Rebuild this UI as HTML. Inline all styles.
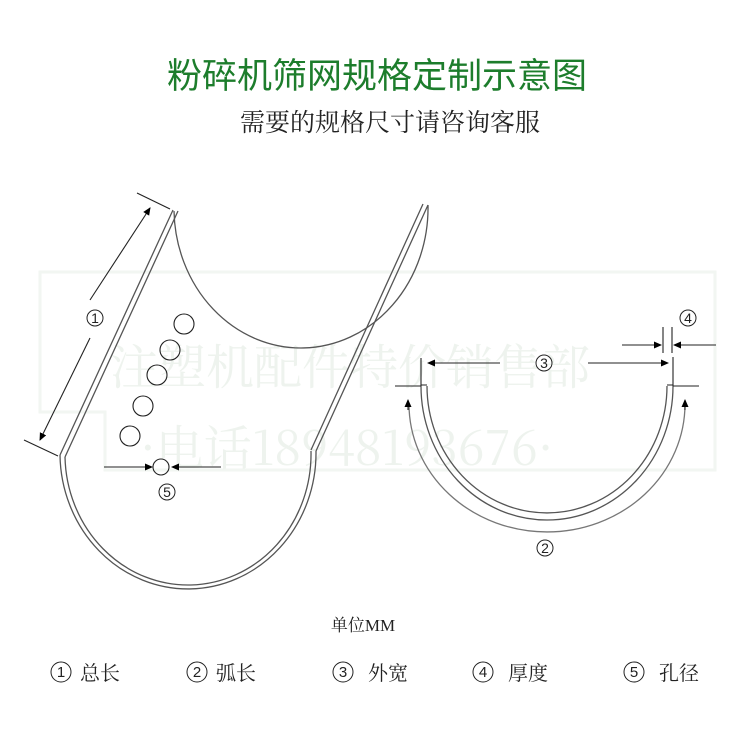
<!DOCTYPE html>
<html><head><meta charset="utf-8"><style>
body{margin:0;background:#fff}
svg{display:block}
</style></head><body>
<svg width="750" height="750" viewBox="0 0 750 750" xmlns="http://www.w3.org/2000/svg">
<defs>
<marker id="a" markerWidth="8" markerHeight="8" refX="7" refY="4" orient="auto" markerUnits="userSpaceOnUse"><path d="M0,0.5 L8,4 L0,7.5z" fill="#000"/></marker>
</defs>
<!-- watermark -->
<g fill="none" stroke="#f2f6f2" stroke-width="3">
<path d="M40,272 H715 V470 H105 V412 H40 Z"/>
</g>
<g font-family="'Noto Serif CJK SC',serif" fill="#eef3ee" font-size="48">
<text x="110" y="384">注塑机配件特价销售部</text>
<text x="140" y="465">·电话18948193676·</text>
</g>
<!-- titles -->
<text x="377" y="88" text-anchor="middle" font-family="'Noto Sans CJK SC',sans-serif" font-size="35" fill="#1d7d2c">粉碎机筛网规格定制示意图</text>
<text x="390" y="131" text-anchor="middle" font-family="'Noto Serif CJK SC',serif" font-size="25" fill="#222">需要的规格尺寸请咨询客服</text>
<!-- left shape -->
<g fill="none" stroke="#555" stroke-width="1.3">
<path d="M173,210 L60,455 M178,211 L65,457"/>
<path d="M423,204 L311,450 M428,205 L316,451"/>
<path d="M174,211 A127,140 0 0 0 428,205"/>
<path d="M60,455 A128,136 0 0 0 316,451"/>
<path d="M65,457 A123,131 0 0 0 311,451"/>
</g>
<g fill="none" stroke="#222" stroke-width="1.1">
<line x1="137" y1="193" x2="170" y2="209"/>
<line x1="24" y1="440" x2="58" y2="456"/>
<line x1="90" y1="300" x2="150" y2="208" marker-end="url(#a)"/>
<line x1="90" y1="338" x2="40" y2="440" marker-end="url(#a)"/>
<circle cx="184" cy="324" r="10"/><circle cx="170" cy="350" r="10"/><circle cx="157" cy="375" r="10"/><circle cx="143" cy="406" r="10"/><circle cx="130" cy="436" r="10"/>
<circle cx="161" cy="467" r="8"/>
<line x1="104" y1="467" x2="152" y2="467" marker-end="url(#a)"/>
<line x1="221" y1="467" x2="172" y2="467" marker-end="url(#a)"/>
</g>
<!-- right shape -->
<g fill="none" stroke="#555" stroke-width="1.3">
<path d="M421,386 A126,134 0 0 0 673,386"/>
<path d="M427,386 A120,127 0 0 0 667,386"/>
<line x1="421" y1="385" x2="427" y2="385"/>
<line x1="667" y1="385" x2="673" y2="385"/>
</g>
<path d="M409,404 A138,128 0 0 0 685,404" fill="none" stroke="#777" stroke-width="1.3"/>
<g fill="none" stroke="#222" stroke-width="1.1">
<line x1="408" y1="410" x2="408" y2="400" marker-end="url(#a)"/>
<line x1="685" y1="410" x2="685" y2="400" marker-end="url(#a)"/>
<line x1="421" y1="358" x2="421" y2="386"/>
<line x1="395" y1="386" x2="421" y2="386"/>
<line x1="500" y1="363" x2="428" y2="363" marker-end="url(#a)"/>
<line x1="588" y1="363" x2="668" y2="363" marker-end="url(#a)"/>
<line x1="673" y1="357" x2="673" y2="386"/>
<line x1="673" y1="386" x2="699" y2="386"/>
<line x1="663" y1="327" x2="663" y2="353"/>
<line x1="672" y1="327" x2="672" y2="353"/>
<line x1="622" y1="345" x2="661" y2="345" marker-end="url(#a)"/>
<line x1="716" y1="345" x2="674" y2="345" marker-end="url(#a)"/>
</g>
<!-- circled labels -->
<g font-family="'Liberation Sans',sans-serif" font-size="14" text-anchor="middle" fill="#222">
<g fill="none" stroke="#222" stroke-width="1">
<circle cx="95" cy="318" r="8"/><circle cx="167" cy="492" r="8"/><circle cx="544" cy="363" r="8"/><circle cx="545" cy="548" r="8"/><circle cx="688" cy="318" r="8"/>
</g>
<text x="95" y="323">1</text><text x="167" y="497">5</text><text x="544" y="368">3</text><text x="545" y="553">2</text><text x="688" y="323">4</text>
</g>
<text x="363" y="631" text-anchor="middle" font-family="'Liberation Serif','Noto Serif CJK SC',serif" font-size="17" fill="#222">单位MM</text>
<g fill="none" stroke="#222" stroke-width="1">
<circle cx="61" cy="672" r="10"/><circle cx="197" cy="672" r="10"/><circle cx="343" cy="672" r="10"/><circle cx="483" cy="672" r="10"/><circle cx="634" cy="672" r="10"/>
</g>
<g font-family="'Liberation Sans',sans-serif" font-size="15" text-anchor="middle" fill="#222">
<text x="61" y="677">1</text><text x="197" y="677">2</text><text x="343" y="677">3</text><text x="483" y="677">4</text><text x="634" y="677">5</text>
</g>
<g font-family="'Noto Serif CJK SC',serif" font-size="20" fill="#222">
<text x="80" y="680">总长</text><text x="216" y="680">弧长</text><text x="368" y="680">外宽</text><text x="508" y="680">厚度</text><text x="659" y="680">孔径</text>
</g>
</svg>
</body></html>
